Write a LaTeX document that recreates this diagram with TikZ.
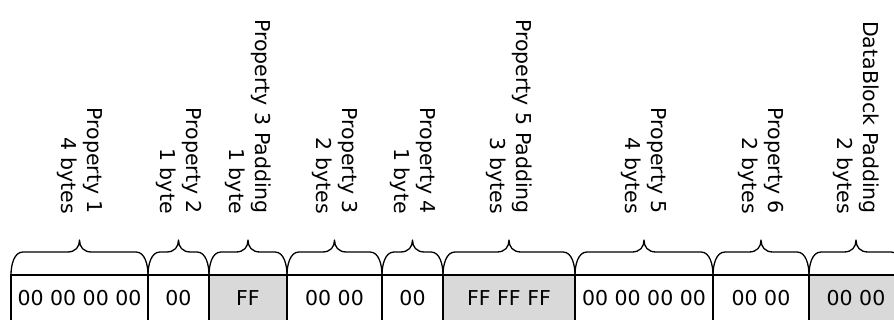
\documentclass[tikz,border=0pt]{standalone}
\usepackage{fontspec}
\setmainfont{DejaVu Sans}
\usetikzlibrary{calc}
\definecolor{padgray}{RGB}{217,217,217}
\begin{document}
\begin{tikzpicture}[x=1pt,y=1pt,
  cell/.style={draw, line width=1.3pt, minimum height=46pt, inner sep=0pt, outer sep=0pt,
    anchor=south west, font=\fontsize{20.5}{24}\selectfont},
  padcell/.style={cell, fill=padgray},
  lbl/.style={rotate=-90, anchor=east, align=right, inner sep=0pt,
    font=\fontsize{20.5}{26}\selectfont},
  brc/.style={draw, line width=1.3pt, line join=round}]
\useasboundingbox (0,0) rectangle (894,320);
% cells
\node[cell, minimum width=137pt] (c1) at (11,-1) {00 00 00 00};
\node[cell, minimum width=61pt] (c2) at (148,-1) {00};
\node[padcell, minimum width=78pt] (c3) at (209,-1) {FF};
\node[cell, minimum width=95pt] (c4) at (287,-1) {00 00};
\node[cell, minimum width=61pt] (c5) at (382,-1) {00};
\node[padcell, minimum width=132pt] (c6) at (443,-1) {FF FF FF};
\node[cell, minimum width=138pt] (c7) at (575,-1) {00 00 00 00};
\node[cell, minimum width=96pt] (c8) at (713,-1) {00 00};
\node[padcell, minimum width=94pt] (c9) at (809,-1) {00 00};
% braces
\foreach \i in {1,...,9}{
  \path[brc] let \p1=(c\i.north west), \p2=(c\i.north east), \n1={0.5*(\x1+\x2)} in
    (\p1) .. controls (\x1,\y1+10pt) and (\x1+3pt,\y1+23pt) .. (\x1+12pt,\y1+23pt)
    -- (\n1-12pt,\y1+23pt) .. controls (\n1-4pt,\y1+23pt) and (\n1,\y1+28pt) .. (\n1,\y1+35pt)
    .. controls (\n1,\y1+28pt) and (\n1+4pt,\y1+23pt) .. (\n1+12pt,\y1+23pt)
    -- (\x2-12pt,\y1+23pt) .. controls (\x2-3pt,\y1+23pt) and (\x2,\y1+10pt) .. (\p2);
}
% labels
\node[lbl] (l1) at ([yshift=61pt]c1.north) {Property 1\\4 bytes};
\node[lbl] (l2) at ([yshift=61pt]c2.north) {Property 2\\1 byte};
\node[lbl] (l3) at ([yshift=61pt]c3.north) {Property 3 Padding\\1 byte};
\node[lbl] (l4) at ([yshift=61pt]c4.north) {Property 3\\2 bytes};
\node[lbl] (l5) at ([yshift=61pt]c5.north) {Property 4\\1 byte};
\node[lbl] (l6) at ([yshift=61pt]c6.north) {Property 5 Padding\\3 bytes};
\node[lbl] (l7) at ([yshift=61pt]c7.north) {Property 5\\4 bytes};
\node[lbl] (l8) at ([yshift=61pt]c8.north) {Property 6\\2 bytes};
\node[lbl] (l9) at ([yshift=61pt]c9.north) {DataBlock Padding\\2 bytes};
\end{tikzpicture}
\end{document}
